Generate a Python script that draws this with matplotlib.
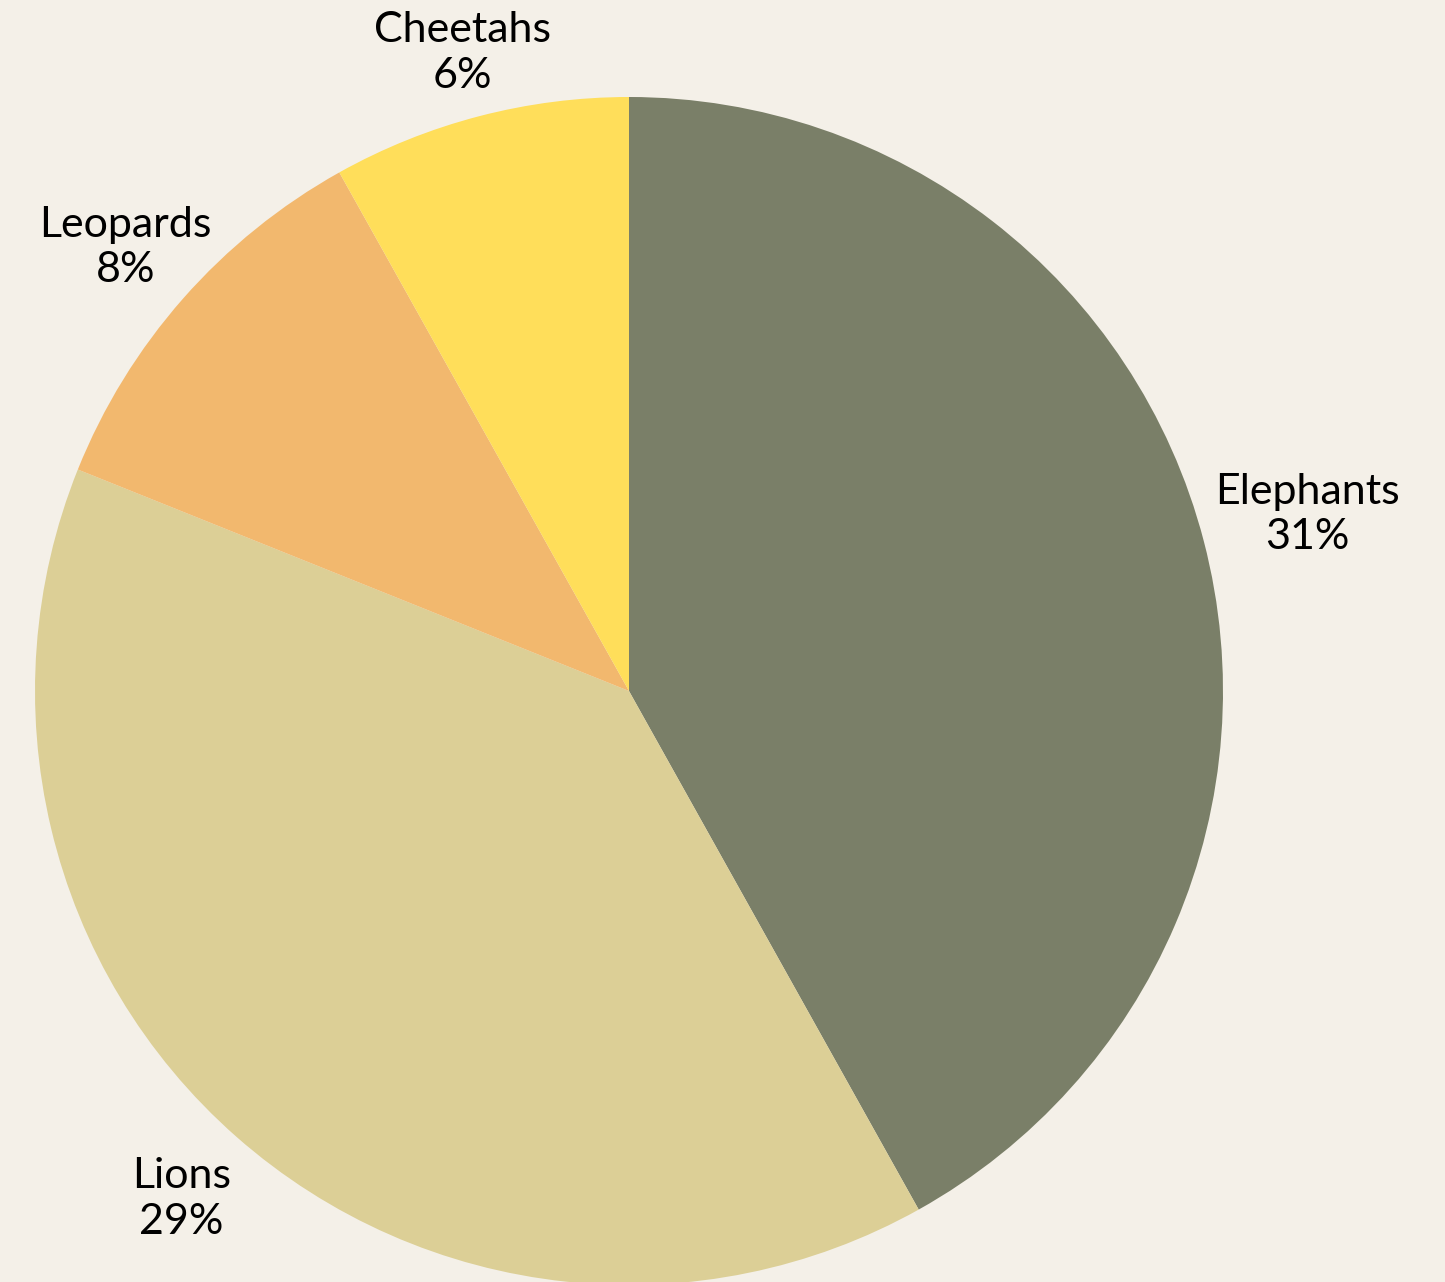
import numpy as np
import matplotlib.pyplot as plt

animals = ['Elephants', 'Lions', 'Leopards', 'Cheetahs']
shares = [31, 29, 8, 6]
colors = ['#7a7f68', '#dccf96', '#f2b86e', '#ffde5a']
label_dist = [1.18, 1.14, 1.13, 1.11]

bg = '#f4f0e8'
plt.rcParams['font.family'] = ['Lato', 'DejaVu Sans']

fig = plt.figure(figsize=(14.45, 12.82), dpi=100, facecolor=bg)
ax = fig.add_axes([0, 0, 1, 1])
ax.set_facecolor(bg)

wedges, _ = ax.pie(shares, colors=colors, startangle=90, counterclock=False,
                   radius=1, center=(0, 0), frame=True)

for w, name, val, d in zip(wedges, animals, shares, label_dist):
    ang = np.deg2rad((w.theta1 + w.theta2) / 2)
    ax.text(d * np.cos(ang), d * np.sin(ang), f'{name}\n{val}%',
            ha='center', va='center', fontsize=31, linespacing=1.25)

# pixel mapping: centre at (629, 691), radius 594 px
r = 594
ax.set_xlim(-629 / r, (1445 - 629) / r)
ax.set_ylim(-(1282 - 691) / r, 691 / r)
ax.set_aspect('auto')
ax.axis('off')

fig.savefig('out.png', dpi=100, facecolor=bg)
